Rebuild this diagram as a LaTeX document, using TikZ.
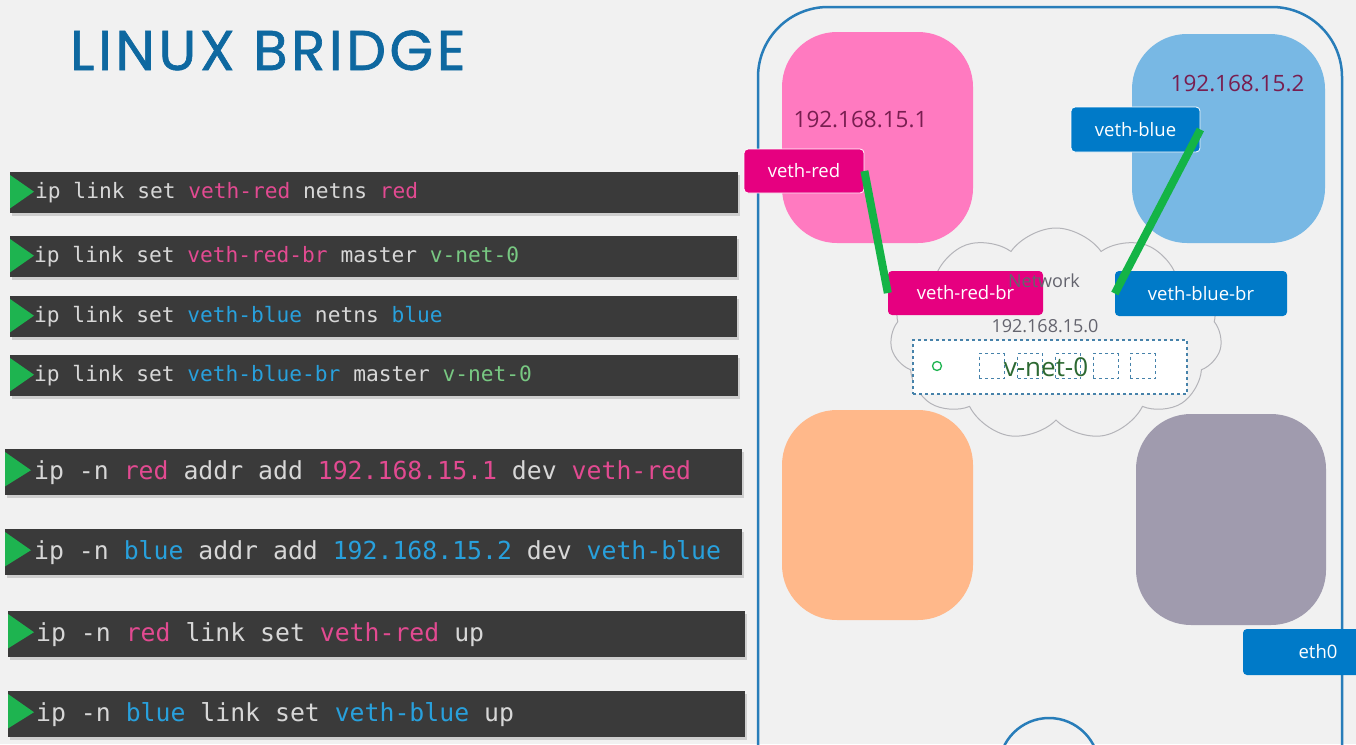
\documentclass[tikz,border=0pt]{standalone}
\usepackage{fontspec}
\setmainfont{Open Sans}
\newfontfamily\titlefont[FakeBold=1.2,LetterSpace=6.5]{Poppins}
\newfontfamily\monofont{DejaVu Sans Mono}
\usetikzlibrary{shapes.symbols,calc,shadows}
\definecolor{bg}{RGB}{241,241,241}
\definecolor{titleblue}{RGB}{14,104,160}
\definecolor{barcol}{RGB}{58,58,58}
\definecolor{cmdgray}{RGB}{215,215,215}
\definecolor{cpink}{RGB}{226,74,145}
\definecolor{cblue}{RGB}{40,160,220}
\definecolor{cgreen}{RGB}{120,200,130}
\definecolor{play}{RGB}{30,180,80}
\definecolor{bordercol}{RGB}{40,125,185}
\definecolor{nspink}{RGB}{255,122,192}
\definecolor{nsblue}{RGB}{120,184,228}
\definecolor{nsorange}{RGB}{255,184,138}
\definecolor{nsgray}{RGB}{160,155,174}
\definecolor{ipcol}{RGB}{120,30,80}
\definecolor{ifpink}{RGB}{230,0,128}
\definecolor{ifblue}{RGB}{0,122,200}
\definecolor{linkgreen}{RGB}{20,180,70}
\definecolor{cloudgray}{RGB}{180,180,185}
\definecolor{nettext}{RGB}{100,100,110}
\definecolor{dashcol}{RGB}{70,130,170}
\definecolor{vnetgreen}{RGB}{45,105,50}
\begin{document}
\begin{tikzpicture}[x=1pt,y=-1pt,
  cmdbar/.style={fill=barcol, inner sep=0, anchor=north west,
    drop shadow={opacity=0.3, shadow xshift=1.5pt, shadow yshift=-3pt}},
  cmdsmall/.style={anchor=west, inner sep=0, text=cmdgray, font=\monofont\fontsize{21.2}{24}\selectfont},
  cmdbig/.style={anchor=west, inner sep=0, text=cmdgray, font=\monofont\fontsize{24.8}{28}\selectfont},
  ns/.style={rounded corners=55, inner sep=0},
  iplabel/.style={inner sep=0, text=ipcol, font=\fontsize{22.5}{26}\selectfont},
  iface/.style={rounded corners=4, inner sep=0, text=white, font=\fontsize{18.5}{22}\selectfont},
  link/.style={draw=linkgreen, line width=8},
  netlabel/.style={inner sep=0, text=nettext, font=\fontsize{18}{21}\selectfont},
  port/.style={draw=dashcol, dashed, line width=0.8, minimum size=25, inner sep=0, fill=white}
]
\useasboundingbox (0,0) rectangle (1356,744);
\fill[bg] (0,0) rectangle (1356,744);

% title
\node[anchor=base west, inner sep=0, text=titleblue, font=\titlefont\fontsize{56}{60}\selectfont] (title) at (70,70) {LINUX BRIDGE};

% command bars
\node[cmdbar, minimum width=728, minimum height=41] (b1) at (10,172) {};
\node[cmdbar, minimum width=727, minimum height=41] (b2) at (10,236) {};
\node[cmdbar, minimum width=727, minimum height=41] (b3) at (10,296) {};
\node[cmdbar, minimum width=728, minimum height=41] (b4) at (10,355) {};
\node[cmdbar, minimum width=737, minimum height=46] (b5) at (5,449) {};
\node[cmdbar, minimum width=737, minimum height=46] (b6) at (5,529) {};
\node[cmdbar, minimum width=737, minimum height=46] (b7) at (8,611) {};
\node[cmdbar, minimum width=737, minimum height=46] (b8) at (8,691) {};

\foreach \b in {b1,b2,b3,b4}{
  \fill[play] ($(\b.north west)+(0,3)$) -- ($(\b.west)+(24,-1)$) -- ($(\b.south west)+(0,-5)$) -- cycle;
}
\foreach \b in {b5,b6,b7,b8}{
  \fill[play] ($(\b.north west)+(0,3)$) -- ($(\b.west)+(26,-2)$) -- ($(\b.south west)+(0,-9)$) -- cycle;
}

\node[cmdsmall] (t1) at ($(b1.west)+(25,0)$) {ip link set \textcolor{cpink}{veth-red} netns \textcolor{cpink}{red}};
\node[cmdsmall] (t2) at ($(b2.west)+(24,0)$) {ip link set \textcolor{cpink}{veth-red-br} master \textcolor{cgreen}{v-net-0}};
\node[cmdsmall] (t3) at ($(b3.west)+(24,0)$) {ip link set \textcolor{cblue}{veth-blue} netns \textcolor{cblue}{blue}};
\node[cmdsmall] (t4) at ($(b4.west)+(24,0)$) {ip link set \textcolor{cblue}{veth-blue-br} master \textcolor{cgreen}{v-net-0}};
\node[cmdbig] (t5) at ($(b5.west)+(29,0)$) {ip -n \textcolor{cpink}{red} addr add \textcolor{cpink}{192.168.15.1} dev \textcolor{cpink}{veth-red}};
\node[cmdbig] (t6) at ($(b6.west)+(29,0)$) {ip -n \textcolor{cblue}{blue} addr add \textcolor{cblue}{192.168.15.2} dev \textcolor{cblue}{veth-blue}};
\node[cmdbig] (t7) at ($(b7.west)+(28,0)$) {ip -n \textcolor{cpink}{red} link set \textcolor{cpink}{veth-red} up};
\node[cmdbig] (t8) at ($(b8.west)+(28,0)$) {ip -n \textcolor{cblue}{blue} link set \textcolor{cblue}{veth-blue} up};

% host border
\draw[draw=bordercol, line width=2.5, rounded corners=70] (758,800) -- (758,7) -- (1342,7) -- (1342,800);

% namespaces
\node[ns, fill=nspink, minimum width=191, minimum height=211] (nsred) at (877.5,137.5) {};
\node[ns, fill=nsblue, minimum width=193, minimum height=209] (nsblue) at (1228.5,138.5) {};
\node[ns, fill=nsorange, minimum width=191, minimum height=210] (nsorange) at (877.5,515) {};
\node[ns, fill=nsgray, minimum width=190, minimum height=211] (nsgray) at (1231,519.5) {};

\node[iplabel] (ipred) at (860.5,120) {192.168.15.1};
\node[iplabel] (ipblue) at (1237.5,84) {192.168.15.2};

% cloud
\node[cloud, cloud puffs=11, cloud puff arc=110, aspect=1.6, draw=cloudgray, line width=1, fill=bg,
  minimum width=332, minimum height=212, inner sep=0] (cloud) at (1056,334) {};

% interfaces
\node[iface, fill=ifpink, draw=white, line width=0.8, minimum width=120, minimum height=44] (vethred) at (804,171) {veth-red};
\node[iface, fill=ifblue, draw=white, line width=0.8, minimum width=129, minimum height=45] (vethblue) at (1135.5,129.5) {veth-blue};
\node[iface, fill=ifpink, minimum width=155, minimum height=44] (vethredbr) at (965.5,293) {veth-red-br};
\node[iface, fill=ifblue, minimum width=172, minimum height=45] (vethbluebr) at (1201,293.5) {veth-blue-br};

\node[netlabel] (network) at (1044,281) {Network};
\node[netlabel] (subnet) at (1045,326) {192.168.15.0};

% bridge
\node[draw=dashcol, dashed, line width=1.5, fill=white, minimum width=274, minimum height=54, inner sep=0] (vnet) at (1050,367) {};
\node[circle, draw=play, line width=1.3, minimum size=9, inner sep=0] (led) at (937,366) {};
\node[port] (p1) at (991.5,366) {};
\node[port] (p2) at (1030,366) {};
\node[port] (p3) at (1068,366) {};
\node[port] (p4) at (1105.5,366) {};
\node[port] (p5) at (1142.5,366) {};
\node[inner sep=0, text=vnetgreen, font=\fontsize{26}{30}\selectfont] (vnetlabel) at (1046,367) {v-net-0};

% links
\draw[link] (vethred.east) -- (vethredbr.west);
\draw[link] (vethblue.east) -- (vethbluebr.west);

% eth0
\node[iface, fill=ifblue, minimum width=150, minimum height=46] (eth0) at (1318,652) {eth0};

% lo circle
\node[circle, draw=bordercol, line width=2.5, minimum size=100, inner sep=0] (lo) at (1049,768) {};
\end{tikzpicture}
\end{document}
